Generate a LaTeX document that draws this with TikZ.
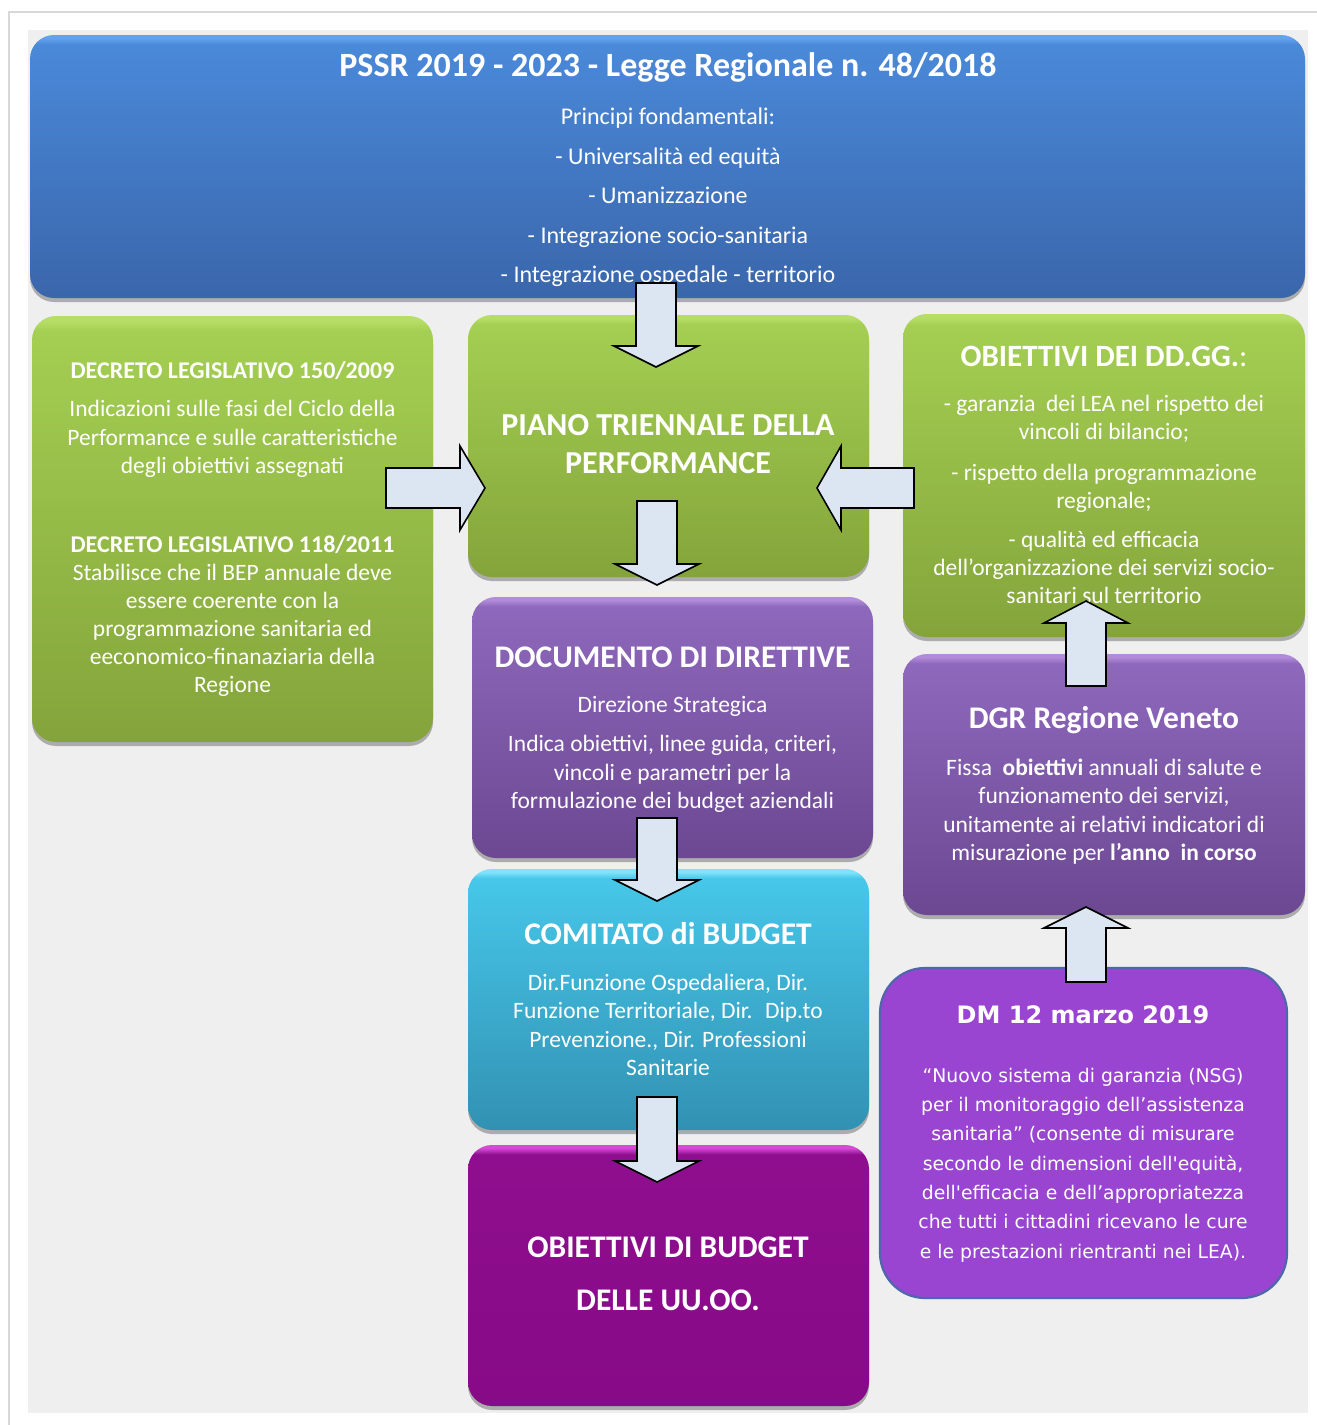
\documentclass[tikz,border=0pt]{standalone}
\usepackage{fontspec}
\setmainfont{Carlito}
\newfontfamily\dmfont{DejaVu Sans}
\usetikzlibrary{calc,shadows}

\definecolor{pagegrey}{HTML}{EFEFEF}
\definecolor{framegrey}{HTML}{D8D8D8}
\definecolor{arrowfill}{HTML}{DCE6F2}
% glossy box colours: rim, upper body, bottom
\definecolor{bRim}{HTML}{62A2EE}\definecolor{bTop}{HTML}{4A89D9}\definecolor{bBot}{HTML}{3A66AB}
\definecolor{gRim}{HTML}{B6DE66}\definecolor{gTop}{HTML}{A4CF52}\definecolor{gBot}{HTML}{84A43B}
\definecolor{pRim}{HTML}{B28CDA}\definecolor{pTop}{HTML}{8E68BC}\definecolor{pBot}{HTML}{6C4892}
\definecolor{cRim}{HTML}{7FE4FB}\definecolor{cTop}{HTML}{46C7E9}\definecolor{cBot}{HTML}{3291B3}
\definecolor{mRim}{HTML}{D44CD4}\definecolor{mTop}{HTML}{8F0E8F}\definecolor{mBot}{HTML}{870A87}
\definecolor{dmFill}{HTML}{9A45D2}\definecolor{dmLine}{HTML}{4E66AA}

% vertical glossy shading: #2 upper colour, #3 bottom colour, #4 thin top rim
\newcommand\glossyshading[4]{%
  \pgfdeclareverticalshading{#1}{100bp}{color(0bp)=(#3); color(25bp)=(#3);
    color(73.2bp)=(#2); color(74.4bp)=(#4); color(75bp)=(#4); color(100bp)=(#4)}}
\glossyshading{blueglossy}{bTop}{bBot}{bRim}
\glossyshading{greenglossy}{gTop}{gBot}{gRim}
\glossyshading{purpleglossy}{pTop}{pBot}{pRim}
\glossyshading{cyanglossy}{cTop}{cBot}{cRim}
\glossyshading{magentaglossy}{mTop}{mBot}{mRim}

% block arrow from #2 to the tip #3, head length #1
\newcommand\blockarrow[3][21pt]{%
  \coordinate (bah) at ($(#3)!#1!(#2)$);
  \draw[barrow] ($(#2)!20pt!90:(#3)$) -- ($(bah)!20pt!90:(#3)$) -- ($(bah)!42pt!90:(#3)$)
    -- (#3) -- ($(bah)!42pt!-90:(#3)$) -- ($(bah)!20pt!-90:(#3)$) -- ($(#2)!20pt!-90:(#3)$) -- cycle;}

\begin{document}
\begin{tikzpicture}[x=1pt,y=-1pt,
  box/.style={rectangle, rounded corners=24pt, inner sep=0pt,
    drop shadow={shadow xshift=0pt, shadow yshift=-4pt, opacity=0.28, fill=black}},
  dmbox/.style={rectangle, rounded corners=45pt, inner sep=0pt, fill=dmFill, draw=dmLine, line width=2.2pt},
  txt/.style={text=white, inner sep=0pt, anchor=base},
  hd/.style={txt, font=\fontsize{31.5}{36}\selectfont\bfseries},
  bd/.style={txt, font=\fontsize{23.5}{28}\selectfont},
  dmbd/.style={txt, font=\dmfont\fontsize{18.8}{24}\selectfont},
  barrow/.style={draw=black, line width=1.6pt, fill=arrowfill, line join=miter, miter limit=10},
]
% page and panel
\path[use as bounding box] (0,0) rectangle (1317,1425);
\fill[white] (0,0) rectangle (1317,1425);
\draw[framegrey, line width=2.5pt] (9,1425) -- (9,12) -- (1317,12);
\fill[pagegrey] (28,30) rectangle (1308,1413);

% boxes
\node[box, shading=blueglossy, minimum width=1275pt, minimum height=263pt] (pssr) at (667.5,166.5) {};
\node[box, shading=greenglossy, minimum width=401pt, minimum height=426pt] (dlgs) at (232.5,529) {};
\node[box, shading=greenglossy, minimum width=401pt, minimum height=262pt] (piano) at (668.5,446) {};
\node[box, shading=greenglossy, minimum width=402pt, minimum height=323pt] (obdg) at (1104,475.5) {};
\node[box, shading=purpleglossy, minimum width=401pt, minimum height=261pt] (docdir) at (672.5,727.5) {};
\node[box, shading=purpleglossy, minimum width=402pt, minimum height=261pt] (dgr) at (1104,784.5) {};
\node[box, shading=cyanglossy, minimum width=401pt, minimum height=261pt] (comitato) at (668.5,999.5) {};
\node[box, shading=magentaglossy, minimum width=401pt, minimum height=261pt] (obbud) at (668.5,1275.5) {};
\node[dmbox, minimum width=407pt, minimum height=330pt] (dm) at (1083.5,1133) {};

% PSSR texts
\node[txt, font=\fontsize{34}{40}\selectfont\bfseries] (pssrtitle) at (668,76) {PSSR 2019 - 2023 - Legge Regionale n. 48/2018};
\foreach \yy/\tx [count=\i] in {124/Principi fondamentali:, 164/- Universalità ed equità, 203/- Umanizzazione,
    243/- Integrazione socio-sanitaria, 282/- Integrazione ospedale - territorio}
  \node[txt, font=\fontsize{24}{30}\selectfont] (pssrline\i) at (668,\yy) {\tx};

% decreti legislativi
\node[txt, font=\fontsize{24}{28}\selectfont\bfseries] (dlgsa) at (232.5,378) {DECRETO LEGISLATIVO 150/2009};
\foreach \yy/\tx [count=\i] in {416/Indicazioni sulle fasi del Ciclo della, 445/Performance e sulle caratteristiche,
    473/degli obiettivi assegnati}
  \node[bd] (dlgsaline\i) at (232.5,\yy) {\tx};
\node[txt, font=\fontsize{24}{28}\selectfont\bfseries] (dlgsb) at (232.5,552) {DECRETO LEGISLATIVO 118/2011};
\foreach \yy/\tx [count=\i] in {580/Stabilisce che il BEP annuale deve, 608/essere coerente con la,
    636/programmazione sanitaria ed, 664/eeconomico-finanaziaria della, 692/Regione}
  \node[bd] (dlgsbline\i) at (232.5,\yy) {\tx};

% piano triennale
\node[txt, font=\fontsize{32}{38}\selectfont\bfseries] (pianoa) at (668,435) {PIANO TRIENNALE DELLA};
\node[txt, font=\fontsize{32}{38}\selectfont\bfseries] (pianob) at (668,473) {PERFORMANCE};

% obiettivi dei direttori generali
\node[txt, font=\fontsize{31}{36}\selectfont\bfseries] (obdgtitle) at (1104,366) {OBIETTIVI DEI DD.GG.{\mdseries :}};
\foreach \yy/\tx [count=\i] in {411/- garanzia~ dei LEA nel rispetto dei, 439/vincoli di bilancio;,
    480/- rispetto della programmazione, 508/regionale;, 547/- qualità ed efficacia,
    575/dell'organizzazione dei servizi socio-, 603/sanitari sul territorio}
  \node[bd] (obdgline\i) at (1104,\yy) {\tx};

% documento di direttive
\node[hd] (doctitle) at (672.5,667) {DOCUMENTO DI DIRETTIVE};
\foreach \yy/\tx [count=\i] in {712/Direzione Strategica, 751/{Indica obiettivi, linee guida, criteri,},
    780/vincoli e parametri per la, 808/formulazione dei budget aziendali}
  \node[bd] (docline\i) at (672.5,\yy) {\tx};

% DGR
\node[hd] (dgrtitle) at (1104,728) {DGR Regione Veneto};
\foreach \yy/\tx [count=\i] in {775/{Fissa~ \textbf{obiettivi} annuali di salute e}, 803/{funzionamento dei servizi,},
    832/unitamente ai relativi indicatori di, 860/{misurazione per \textbf{l'anno~ in corso}}}
  \node[bd] (dgrline\i) at (1104,\yy) {\tx};

% comitato di budget
\node[hd] (comtitle) at (668,944) {COMITATO di BUDGET};
\foreach \yy/\tx [count=\i] in {990/{Dir.Funzione Ospedaliera, Dir.}, 1018/{Funzione Territoriale, Dir.~ Dip.to},
    1047/{Prevenzione., Dir. Professioni}, 1075/Sanitarie}
  \node[bd] (comline\i) at (668,\yy) {\tx};

% obiettivi di budget
\node[hd] (obbuda) at (668,1257) {OBIETTIVI DI BUDGET};
\node[hd] (obbudb) at (668,1310) {DELLE UU.OO.};

% DM
\node[txt, font=\dmfont\fontsize{24}{30}\selectfont\bfseries] (dmtitle) at (1083,1023) {DM 12 marzo 2019};
\foreach \yy/\tx [count=\i] in {1082/“Nuovo sistema di garanzia (NSG), 1111.3/per il monitoraggio dell’assistenza,
    1140.6/sanitaria” (consente di misurare, 1170/{secondo le dimensioni dell'equità,},
    1199.3/dell'efficacia e dell’appropriatezza, 1228.6/che tutti i cittadini ricevano le cure,
    1258/e le prestazioni rientranti nei LEA).}
  \node[dmbd] (dmline\i) at (1083,\yy) {\tx};

% block arrows
\coordinate (a1s) at (656,283);  \coordinate (a1e) at (656,367);
\coordinate (a2s) at (657,501);  \coordinate (a2e) at (657,585);
\coordinate (a3s) at (657,818);  \coordinate (a3e) at (657,901);
\coordinate (a4s) at (657,1097); \coordinate (a4e) at (657,1182);
\coordinate (a5s) at (386,488);  \coordinate (a5e) at (485,488);
\coordinate (a6s) at (914,488);  \coordinate (a6e) at (817,488);
\coordinate (a7s) at (1086,686); \coordinate (a7e) at (1086,601);
\coordinate (a8s) at (1086,982); \coordinate (a8e) at (1086,907);
\blockarrow{a1s}{a1e}
\blockarrow{a2s}{a2e}
\blockarrow{a3s}{a3e}
\blockarrow{a4s}{a4e}
\blockarrow[25pt]{a5s}{a5e}
\blockarrow[24pt]{a6s}{a6e}
\blockarrow[22pt]{a7s}{a7e}
\blockarrow{a8s}{a8e}
\end{tikzpicture}
\end{document}
